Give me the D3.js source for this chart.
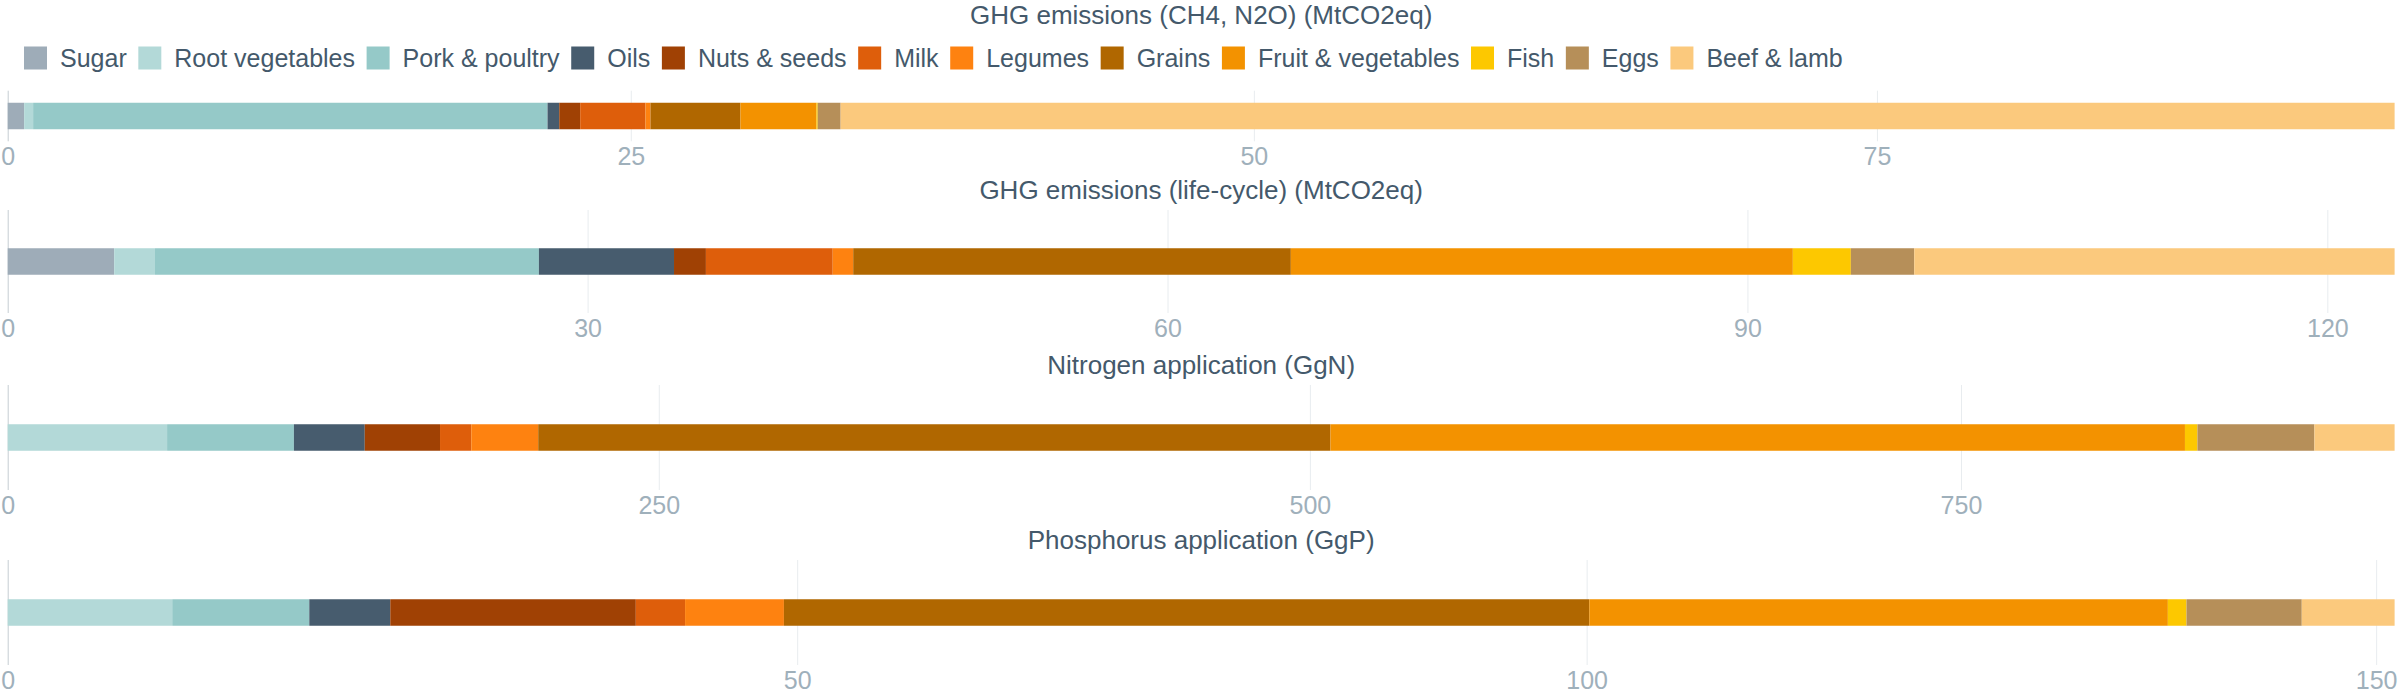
<!DOCTYPE html>
<html>
<head>
<meta charset="utf-8">
<script src="https://cdn.jsdelivr.net/npm/d3@7"></script>
<style>
  html, body { margin: 0; padding: 0; background: #fff; }
  svg { display: block; font-family: "Liberation Sans", Arial, sans-serif; }
</style>
</head>
<body>
<svg id="chart" width="2400" height="700"></svg>
<script>
// ---- data ----
const categories = ["Sugar", "Root vegetables", "Pork & poultry", "Oils", "Nuts & seeds", "Milk",
  "Legumes", "Grains", "Fruit & vegetables", "Fish", "Eggs", "Beef & lamb"];
const colors = ["#9eacb8", "#b3d9d8", "#95c9c8", "#475c6e", "#a04104", "#de5e0b",
  "#fe8210", "#b06700", "#f39200", "#fdc800", "#b68f59", "#fbc97d"];

const titles = ["GHG emissions (CH4, N2O) (MtCO2eq)", "GHG emissions (life-cycle) (MtCO2eq)",
  "Nitrogen application (GgN)", "Phosphorus application (GgP)"];

const ghgDirect    = [0.66, 0.36, 20.64, 0.47, 0.84, 2.62, 0.20, 3.61, 3.05, 0.05, 0.92, 62.35];
const ghgLifecycle = [5.51, 2.11, 19.86, 6.99, 1.65, 6.56, 1.06, 22.64, 25.97, 3.00, 3.28, 24.85];
const nitrogen     = [0, 61.2, 48.7, 27.2, 28.9, 12.0, 25.7, 304.2, 328.1, 4.8, 44.9, 30.8];
const phosphorus   = [0, 10.42, 8.68, 5.13, 15.55, 3.12, 6.26, 51.01, 36.64, 1.18, 7.30, 5.88];

const ticks1 = [0, 25, 50, 75];
const ticks2 = [0, 30, 60, 90, 120];
const ticks3 = [0, 250, 500, 750];
const ticks4 = [0, 50, 100, 150];

const seriesList = [ghgDirect, ghgLifecycle, nitrogen, phosphorus];
const tickList = [ticks1, ticks2, ticks3, ticks4];

// ---- layout ----
const plotLeft = 7.7, plotRight = 2394.6;
const panels = [
  { titleY: 15,  top: 90.7, bottom: 141.3 },
  { titleY: 190, top: 210,  bottom: 313 },
  { titleY: 365, top: 385,  bottom: 490 },
  { titleY: 540, top: 560,  bottom: 665 }
];
const barH = 26.5;
const textColor = "#44596b";
const tickColor = "#9fb0bb";

const svg = d3.select("#chart");
const color = d3.scaleOrdinal().domain(categories).range(colors);

// legend
const legend = svg.append("g").attr("class", "legend");
let lx = 24;
categories.forEach((c) => {
  const g = legend.append("g").attr("transform", `translate(${lx},0)`);
  g.append("rect").attr("x", 0).attr("y", 46.5).attr("width", 23).attr("height", 23)
    .attr("fill", color(c));
  const t = g.append("text").attr("x", 36).attr("y", 67)
    .attr("font-size", 25).attr("fill", textColor).text(c);
  const tw = t.node().getComputedTextLength();
  lx += 36 + tw + 11.6;
});

panels.forEach((p, k) => {
  const values = seriesList[k];
  const total = d3.sum(values);
  const x = d3.scaleLinear().domain([0, total]).range([plotLeft, plotRight]);
  const y = d3.scaleBand().domain([titles[k]]).range([p.top, p.bottom]);
  const g = svg.append("g");

  // title
  g.append("text").attr("x", (plotLeft + plotRight) / 2).attr("y", p.titleY)
    .attr("dy", "0.35em").attr("text-anchor", "middle")
    .attr("font-size", 26).attr("fill", textColor).text(titles[k]);

  // grid + tick labels
  const axis = d3.axisBottom(x).tickValues(tickList[k]).tickSize(-(p.bottom - p.top))
    .tickPadding(6).tickFormat(d3.format("d"));
  const ax = g.append("g").attr("transform", `translate(0,${p.bottom})`).call(axis);
  ax.select(".domain").remove();
  ax.selectAll(".tick line").attr("stroke", (d) => d === 0 ? "#c5cdd3" : "#e8ecef")
    .attr("stroke-width", 1);
  ax.selectAll(".tick text").attr("font-size", 25).attr("fill", tickColor)
    .attr("font-family", "Liberation Sans, Arial, sans-serif");

  // stacked bar
  const stackData = [Object.fromEntries(categories.map((c, i) => [c, values[i]]))];
  const stacked = d3.stack().keys(categories)(stackData);
  const yc = y(titles[k]) + y.bandwidth() / 2;
  g.selectAll("rect.seg").data(stacked).join("rect").attr("class", "seg")
    .attr("x", (s) => x(s[0][0]))
    .attr("width", (s) => Math.max(0, x(s[0][1]) - x(s[0][0])))
    .attr("y", yc - barH / 2).attr("height", barH)
    .attr("fill", (s) => color(s.key));
});
</script>
</body>
</html>
